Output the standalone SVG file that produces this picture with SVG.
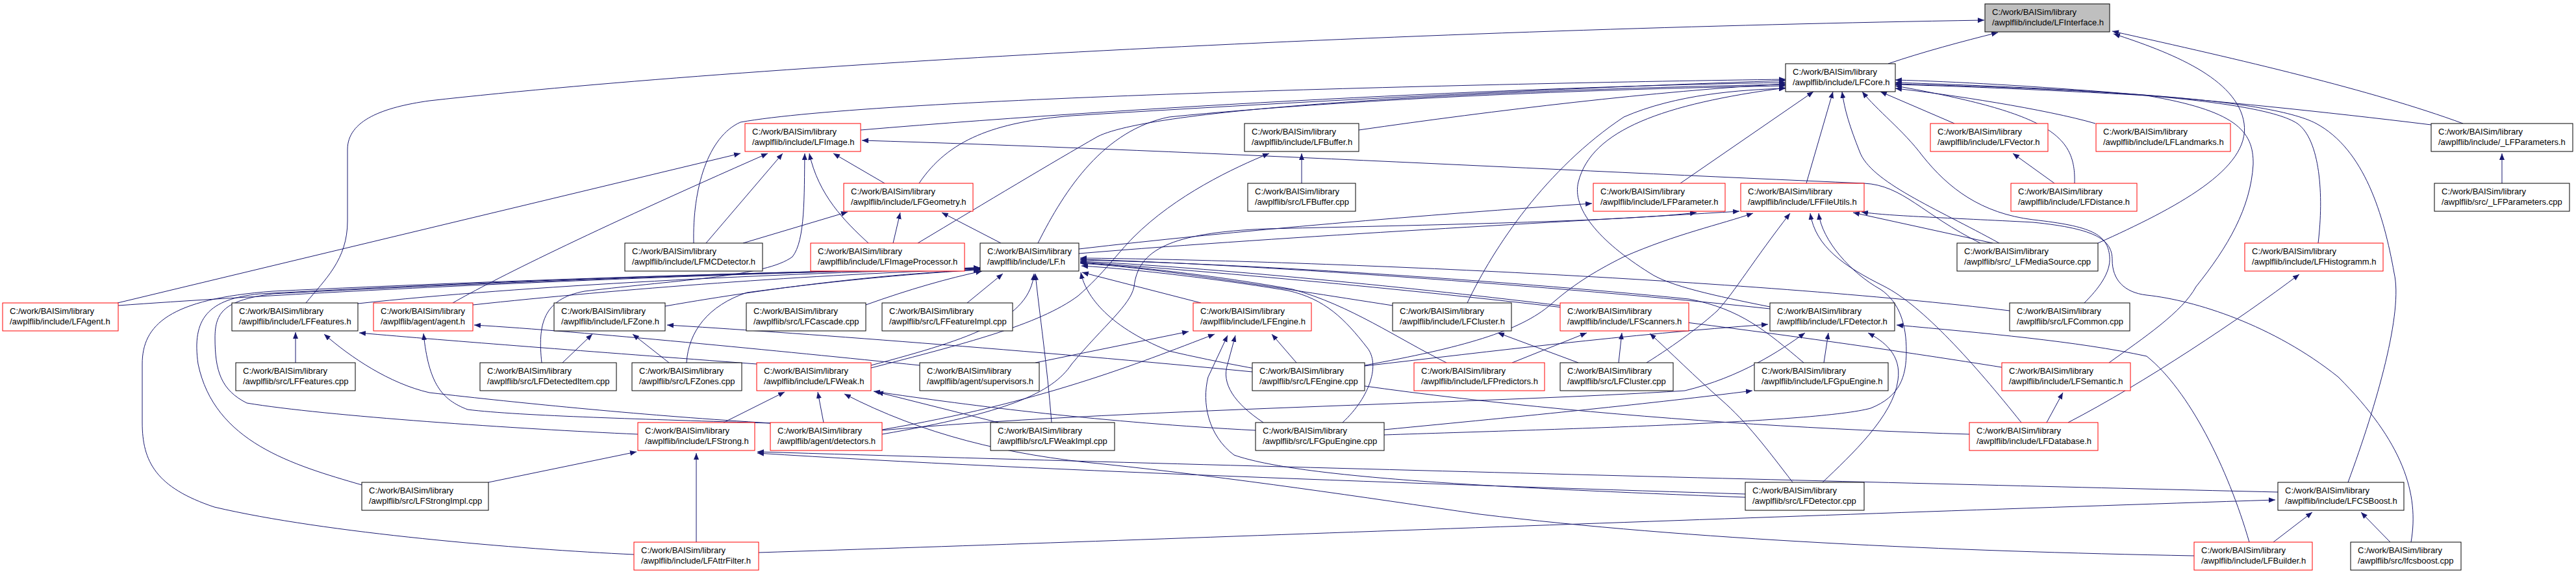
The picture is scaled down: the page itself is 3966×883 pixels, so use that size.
<svg xmlns="http://www.w3.org/2000/svg" width="3966" height="883" viewBox="0 0 3966 883">
<defs>
<marker id="arr" markerUnits="userSpaceOnUse" markerWidth="12" markerHeight="9" refX="10" refY="4" orient="auto"><path d="M0,0 L10,4 L0,8 z" fill="#191970"/></marker>
<style>
.node rect{fill:#fff;stroke:#000;stroke-width:1}
.node.red rect{stroke:#f00}
.node.cur rect{fill:#bfbfbf}
.node text{font-family:"Liberation Sans",Arial,sans-serif;font-size:13px;fill:#000}
#edges path{fill:none;stroke:#191970;stroke-width:1;marker-end:url(#arr)}
</style>
</defs>
<rect width="3966" height="883" fill="#fff"/>
<g id="edges">
<path d="M2907,98 C2960,80 3020,64 3076,50"/>
<path d="M471,466 C500,430 535,400 535,340 L535,230 C535,185 590,165 661,155 C1200,95 2200,45 3055,31"/>
<path d="M3792,190 C3650,138 3450,92 3252,48"/>
<path d="M3230,374 C3350,320 3465,260 3455,190 C3445,120 3340,80 3254,52"/>
<path d="M1325,200 C1800,160 2400,132 2749,127"/>
<path d="M2092,200 C2300,170 2550,140 2749,129"/>
<path d="M3009,190 L2895,141"/>
<path d="M3226,190 C3150,168 3000,145 2918,136"/>
<path d="M3743,192 C3400,150 3100,128 2918,123"/>
<path d="M1415,282 C1460,215 1530,188 1650,178 C2100,150 2500,132 2749,124"/>
<path d="M2587,282 L2792,141"/>
<path d="M2781,282 L2822,141"/>
<path d="M3194,282 C3196,210 3160,175 2918,132"/>
<path d="M1068,374 C1066,290 1090,210 1140,188 C1350,150 2300,128 2749,122"/>
<path d="M1413,374 C1520,310 1620,250 1690,210 C1780,165 2300,138 2749,130"/>
<path d="M1598,374 C1640,290 1700,200 1800,180 C2100,150 2500,136 2749,132"/>
<path d="M3078,374 C2980,320 2880,280 2863,233 C2848,195 2840,170 2836,141"/>
<path d="M3569,374 C3578,300 3572,215 3537,190 C3480,152 3200,136 2918,127"/>
<path d="M3615,742 C3660,620 3700,480 3686,420 C3670,330 3640,230 3566,190 C3490,150 3200,137 2918,129"/>
<path d="M2725,472 C2640,455 2570,440 2540,420 C2460,370 2420,320 2430,280 C2450,200 2560,160 2749,135"/>
<path d="M3209,466 C3230,445 3250,420 3248,395 C3245,360 3220,348 3130,338 C3050,328 3000,290 2960,240 C2930,200 2890,170 2867,141"/>
<path d="M3247,558 C3300,520 3360,480 3381,441 C3430,380 3465,320 3469,253 C3470,200 3440,170 3305,147 C3150,138 3000,132 2918,130"/>
<path d="M2259,466 C2300,380 2380,260 2500,180 C2580,145 2680,138 2749,136"/>
<path d="M181,466 L1140,236"/>
<path d="M697,466 C760,430 900,360 1182,236"/>
<path d="M1087,374 L1205,236"/>
<path d="M834,558 C828,500 835,460 900,448 C1050,430 1180,425 1220,395 C1240,370 1238,300 1239,236"/>
<path d="M1337,374 C1300,340 1260,300 1246,236"/>
<path d="M1362,282 L1283,236"/>
<path d="M3049,374 C2960,330 2930,285 2870,282 C2400,262 1800,230 1327,216"/>
<path d="M2004,282 L2004,236"/>
<path d="M1341,566 C1480,530 1600,500 1660,455 C1700,420 1720,390 1745,365 C1810,300 1900,258 1954,236"/>
<path d="M3852,282 L3852,236"/>
<path d="M3163,282 L3099,236"/>
<path d="M1375,374 L1386,327"/>
<path d="M1541,374 L1450,327"/>
<path d="M1144,374 L1305,326"/>
<path d="M1661,383 C1900,355 2200,330 2451,313"/>
<path d="M1358,668 C1550,635 1620,605 1650,560 C1700,500 1740,470 1746,441 C1752,385 1800,358 1950,352 C2250,345 2500,340 2612,327"/>
<path d="M1661,390 C2000,362 2400,342 2678,325"/>
<path d="M2101,562 C2250,535 2340,510 2388,468 C2420,440 2450,420 2500,395 C2580,360 2650,345 2699,328"/>
<path d="M2535,558 C2580,530 2620,500 2644,478 C2670,450 2700,400 2756,328"/>
<path d="M3068,374 L2853,327"/>
<path d="M3112,650 C3040,560 2960,470 2900,440 C2840,410 2795,380 2787,328"/>
<path d="M2131,669 C2400,660 2800,650 2880,628 C2925,610 2935,580 2935,540 C2935,500 2925,465 2895,445 C2850,420 2805,370 2800,328"/>
<path d="M3712,834 C3725,760 3700,680 3600,580 C3500,500 3380,462 3305,454 C3270,450 3252,430 3252,400 C3252,370 3230,352 3130,342 C3000,335 2900,332 2866,326"/>
<path d="M3184,650 C3300,590 3450,490 3540,422"/>
<path d="M3151,650 L3176,604"/>
<path d="M182,470 C600,440 1200,418 1509,412"/>
<path d="M551,467 C800,440 1200,420 1509,413"/>
<path d="M728,469 C950,445 1250,422 1509,414"/>
<path d="M1024,471 C1200,440 1380,420 1509,415"/>
<path d="M1333,469 C1400,445 1460,428 1512,417"/>
<path d="M1489,466 L1544,421"/>
<path d="M1341,562 C1500,520 1585,490 1592,421"/>
<path d="M1619,650 C1612,560 1600,480 1594,421"/>
<path d="M1849,466 L1666,419"/>
<path d="M2144,470 C1950,440 1780,412 1663,405"/>
<path d="M2402,470 C2200,445 1850,410 1663,402"/>
<path d="M2725,475 C2400,440 1900,405 1663,399"/>
<path d="M3094,478 C2700,430 2000,400 1663,397"/>
<path d="M557,746 C450,715 330,680 305,560 C295,490 320,460 400,452 C800,430 1200,418 1509,412"/>
<path d="M976,853 C800,845 500,820 330,780 C240,750 219,710 219,650 L219,560 C219,500 260,460 420,448 C800,430 1200,418 1509,412"/>
<path d="M982,668 C800,660 500,640 380,620 C340,600 331,570 331,520 C331,480 345,462 420,452 C800,432 1200,418 1509,413"/>
<path d="M1057,558 C1060,510 1090,470 1150,450 C1300,430 1420,420 1509,415"/>
<path d="M2227,558 C2150,520 2080,470 1990,445 C1850,420 1720,408 1663,404"/>
<path d="M2777,558 C2720,510 2680,475 2600,460 C2300,430 1900,405 1663,400"/>
<path d="M3082,565 C2800,520 2300,450 1663,403"/>
<path d="M3032,668 C2600,655 2100,610 1800,540 C1700,500 1670,450 1664,419"/>
<path d="M2067,650 C2110,610 2125,560 2105,535 C2070,490 2040,460 1983,447 C1850,425 1720,412 1665,409"/>
<path d="M455,558 L455,511"/>
<path d="M1165,560 C900,540 700,525 553,512"/>
<path d="M1188,651 C1000,640 800,620 661,604 C600,590 540,550 499,514"/>
<path d="M1186,651 C1000,645 800,640 720,630 C680,615 660,590 652,513"/>
<path d="M1416,562 C1200,540 900,510 730,500"/>
<path d="M866,558 L912,514"/>
<path d="M1030,558 L974,514"/>
<path d="M1928,572 C1600,540 1200,510 1027,500"/>
<path d="M1594,558 L1830,510"/>
<path d="M1358,661 C1600,620 1750,560 1870,514"/>
<path d="M1996,558 L1958,514"/>
<path d="M1945,650 C1900,620 1880,590 1890,560 L1902,516"/>
<path d="M2687,765 C2300,750 2000,735 1900,700 C1860,670 1850,620 1860,580 L1890,516"/>
<path d="M2430,558 L2306,512"/>
<path d="M2328,558 L2443,512"/>
<path d="M2492,558 L2497,512"/>
<path d="M2760,742 C2720,690 2690,650 2650,615 C2610,580 2570,540 2540,513"/>
<path d="M2808,558 L2815,512"/>
<path d="M2806,742 C2850,700 2915,640 2922,585 C2928,545 2900,525 2876,512"/>
<path d="M2101,563 C2300,540 2500,515 2722,499"/>
<path d="M1358,662 C1700,630 2300,620 2594,601 C2680,580 2740,540 2779,512"/>
<path d="M3463,834 C3430,720 3370,600 3305,548 C3200,525 3050,512 2920,500"/>
<path d="M2131,661 C2350,640 2550,620 2698,601"/>
<path d="M1114,650 L1208,603"/>
<path d="M1268,650 L1259,603"/>
<path d="M1537,650 L1350,603"/>
<path d="M1933,662 C1700,650 1500,625 1345,602"/>
<path d="M3378,855 C3000,848 2600,830 2278,791 C2100,765 1900,735 1700,714 C1550,700 1420,668 1300,606"/>
<path d="M752,742 L980,695"/>
<path d="M1072,834 L1072,697"/>
<path d="M3507,757 C3000,745 2000,720 1166,695"/>
<path d="M2687,760 C2300,748 1600,725 1166,697"/>
<path d="M1168,850 C1800,830 2700,795 3503,769"/>
<path d="M3500,834 L3560,788"/>
<path d="M3680,834 L3635,788"/>
</g>
<g id="n_LFInterface" class="node cur"><rect x="3056" y="6" width="192" height="43"/><text><tspan x="3067" y="23">C:/work/BAISim/library</tspan><tspan x="3067" y="39">/awplflib/include/LFInterface.h</tspan></text></g>
<g id="n_LFCore" class="node"><rect x="2749" y="98" width="169" height="43"/><text><tspan x="2760" y="115">C:/work/BAISim/library</tspan><tspan x="2760" y="131">/awplflib/include/LFCore.h</tspan></text></g>
<g id="n_LFImage" class="node red"><rect x="1147" y="190" width="178" height="43"/><text><tspan x="1158" y="207">C:/work/BAISim/library</tspan><tspan x="1158" y="223">/awplflib/include/LFImage.h</tspan></text></g>
<g id="n_LFBuffer_h" class="node"><rect x="1916" y="190" width="176" height="43"/><text><tspan x="1927" y="207">C:/work/BAISim/library</tspan><tspan x="1927" y="223">/awplflib/include/LFBuffer.h</tspan></text></g>
<g id="n_LFVector" class="node red"><rect x="2972" y="190" width="181" height="43"/><text><tspan x="2983" y="207">C:/work/BAISim/library</tspan><tspan x="2983" y="223">/awplflib/include/LFVector.h</tspan></text></g>
<g id="n_LFLandmarks" class="node red"><rect x="3227" y="190" width="207" height="43"/><text><tspan x="3238" y="207">C:/work/BAISim/library</tspan><tspan x="3238" y="223">/awplflib/include/LFLandmarks.h</tspan></text></g>
<g id="n_LFParameters_h" class="node"><rect x="3743" y="190" width="218" height="43"/><text><tspan x="3754" y="207">C:/work/BAISim/library</tspan><tspan x="3754" y="223">/awplflib/include/_LFParameters.h</tspan></text></g>
<g id="n_LFGeometry" class="node red"><rect x="1299" y="282" width="199" height="43"/><text><tspan x="1310" y="299">C:/work/BAISim/library</tspan><tspan x="1310" y="315">/awplflib/include/LFGeometry.h</tspan></text></g>
<g id="n_LFBuffer_cpp" class="node"><rect x="1921" y="282" width="166" height="43"/><text><tspan x="1932" y="299">C:/work/BAISim/library</tspan><tspan x="1932" y="315">/awplflib/src/LFBuffer.cpp</tspan></text></g>
<g id="n_LFParameter" class="node red"><rect x="2453" y="282" width="203" height="43"/><text><tspan x="2464" y="299">C:/work/BAISim/library</tspan><tspan x="2464" y="315">/awplflib/include/LFParameter.h</tspan></text></g>
<g id="n_LFFileUtils" class="node red"><rect x="2680" y="282" width="190" height="43"/><text><tspan x="2691" y="299">C:/work/BAISim/library</tspan><tspan x="2691" y="315">/awplflib/include/LFFileUtils.h</tspan></text></g>
<g id="n_LFDistance" class="node red"><rect x="3096" y="282" width="194" height="43"/><text><tspan x="3107" y="299">C:/work/BAISim/library</tspan><tspan x="3107" y="315">/awplflib/include/LFDistance.h</tspan></text></g>
<g id="n_LFParameters_cpp" class="node"><rect x="3748" y="282" width="208" height="43"/><text><tspan x="3759" y="299">C:/work/BAISim/library</tspan><tspan x="3759" y="315">/awplflib/src/_LFParameters.cpp</tspan></text></g>
<g id="n_LFMCDetector" class="node"><rect x="962" y="374" width="212" height="43"/><text><tspan x="973" y="391">C:/work/BAISim/library</tspan><tspan x="973" y="407">/awplflib/include/LFMCDetector.h</tspan></text></g>
<g id="n_LFImageProcessor" class="node red"><rect x="1248" y="374" width="237" height="43"/><text><tspan x="1259" y="391">C:/work/BAISim/library</tspan><tspan x="1259" y="407">/awplflib/include/LFImageProcessor.h</tspan></text></g>
<g id="n_LF" class="node"><rect x="1509" y="374" width="152" height="43"/><text><tspan x="1520" y="391">C:/work/BAISim/library</tspan><tspan x="1520" y="407">/awplflib/include/LF.h</tspan></text></g>
<g id="n_LFMediaSource" class="node"><rect x="3013" y="374" width="217" height="43"/><text><tspan x="3024" y="391">C:/work/BAISim/library</tspan><tspan x="3024" y="407">/awplflib/src/_LFMediaSource.cpp</tspan></text></g>
<g id="n_LFHistogramm" class="node red"><rect x="3456" y="374" width="213" height="43"/><text><tspan x="3467" y="391">C:/work/BAISim/library</tspan><tspan x="3467" y="407">/awplflib/include/LFHistogramm.h</tspan></text></g>
<g id="n_LFAgent" class="node red"><rect x="4" y="466" width="178" height="43"/><text><tspan x="15" y="483">C:/work/BAISim/library</tspan><tspan x="15" y="499">/awplflib/include/LFAgent.h</tspan></text></g>
<g id="n_LFFeatures_h" class="node"><rect x="357" y="466" width="194" height="43"/><text><tspan x="368" y="483">C:/work/BAISim/library</tspan><tspan x="368" y="499">/awplflib/include/LFFeatures.h</tspan></text></g>
<g id="n_agent" class="node red"><rect x="575" y="466" width="153" height="43"/><text><tspan x="586" y="483">C:/work/BAISim/library</tspan><tspan x="586" y="499">/awplflib/agent/agent.h</tspan></text></g>
<g id="n_LFZone" class="node"><rect x="853" y="466" width="171" height="43"/><text><tspan x="864" y="483">C:/work/BAISim/library</tspan><tspan x="864" y="499">/awplflib/include/LFZone.h</tspan></text></g>
<g id="n_LFCascade" class="node"><rect x="1149" y="466" width="184" height="43"/><text><tspan x="1160" y="483">C:/work/BAISim/library</tspan><tspan x="1160" y="499">/awplflib/src/LFCascade.cpp</tspan></text></g>
<g id="n_LFFeatureImpl" class="node"><rect x="1358" y="466" width="201" height="43"/><text><tspan x="1369" y="483">C:/work/BAISim/library</tspan><tspan x="1369" y="499">/awplflib/src/LFFeatureImpl.cpp</tspan></text></g>
<g id="n_LFEngine_h" class="node red"><rect x="1837" y="466" width="182" height="43"/><text><tspan x="1848" y="483">C:/work/BAISim/library</tspan><tspan x="1848" y="499">/awplflib/include/LFEngine.h</tspan></text></g>
<g id="n_LFCluster_h" class="node"><rect x="2144" y="466" width="183" height="43"/><text><tspan x="2155" y="483">C:/work/BAISim/library</tspan><tspan x="2155" y="499">/awplflib/include/LFCluster.h</tspan></text></g>
<g id="n_LFScanners" class="node red"><rect x="2402" y="466" width="198" height="43"/><text><tspan x="2413" y="483">C:/work/BAISim/library</tspan><tspan x="2413" y="499">/awplflib/include/LFScanners.h</tspan></text></g>
<g id="n_LFDetector_h" class="node"><rect x="2725" y="466" width="192" height="43"/><text><tspan x="2736" y="483">C:/work/BAISim/library</tspan><tspan x="2736" y="499">/awplflib/include/LFDetector.h</tspan></text></g>
<g id="n_LFCommon" class="node"><rect x="3094" y="466" width="185" height="43"/><text><tspan x="3105" y="483">C:/work/BAISim/library</tspan><tspan x="3105" y="499">/awplflib/src/LFCommon.cpp</tspan></text></g>
<g id="n_LFFeatures_cpp" class="node"><rect x="363" y="558" width="184" height="43"/><text><tspan x="374" y="575">C:/work/BAISim/library</tspan><tspan x="374" y="591">/awplflib/src/LFFeatures.cpp</tspan></text></g>
<g id="n_LFDetectedItem" class="node"><rect x="739" y="558" width="210" height="43"/><text><tspan x="750" y="575">C:/work/BAISim/library</tspan><tspan x="750" y="591">/awplflib/src/LFDetectedItem.cpp</tspan></text></g>
<g id="n_LFZones" class="node"><rect x="973" y="558" width="169" height="43"/><text><tspan x="984" y="575">C:/work/BAISim/library</tspan><tspan x="984" y="591">/awplflib/src/LFZones.cpp</tspan></text></g>
<g id="n_LFWeak" class="node red"><rect x="1165" y="558" width="176" height="43"/><text><tspan x="1176" y="575">C:/work/BAISim/library</tspan><tspan x="1176" y="591">/awplflib/include/LFWeak.h</tspan></text></g>
<g id="n_supervisors" class="node"><rect x="1416" y="558" width="184" height="43"/><text><tspan x="1427" y="575">C:/work/BAISim/library</tspan><tspan x="1427" y="591">/awplflib/agent/supervisors.h</tspan></text></g>
<g id="n_LFEngine_cpp" class="node"><rect x="1928" y="558" width="173" height="43"/><text><tspan x="1939" y="575">C:/work/BAISim/library</tspan><tspan x="1939" y="591">/awplflib/src/LFEngine.cpp</tspan></text></g>
<g id="n_LFPredictors" class="node red"><rect x="2177" y="558" width="201" height="43"/><text><tspan x="2188" y="575">C:/work/BAISim/library</tspan><tspan x="2188" y="591">/awplflib/include/LFPredictors.h</tspan></text></g>
<g id="n_LFCluster_cpp" class="node"><rect x="2402" y="558" width="174" height="43"/><text><tspan x="2413" y="575">C:/work/BAISim/library</tspan><tspan x="2413" y="591">/awplflib/src/LFCluster.cpp</tspan></text></g>
<g id="n_LFGpuEngine_h" class="node"><rect x="2701" y="558" width="206" height="43"/><text><tspan x="2712" y="575">C:/work/BAISim/library</tspan><tspan x="2712" y="591">/awplflib/include/LFGpuEngine.h</tspan></text></g>
<g id="n_LFSemantic" class="node red"><rect x="3082" y="558" width="198" height="43"/><text><tspan x="3093" y="575">C:/work/BAISim/library</tspan><tspan x="3093" y="591">/awplflib/include/LFSemantic.h</tspan></text></g>
<g id="n_LFStrong" class="node red"><rect x="982" y="650" width="180" height="43"/><text><tspan x="993" y="667">C:/work/BAISim/library</tspan><tspan x="993" y="683">/awplflib/include/LFStrong.h</tspan></text></g>
<g id="n_detectors" class="node red"><rect x="1186" y="650" width="172" height="43"/><text><tspan x="1197" y="667">C:/work/BAISim/library</tspan><tspan x="1197" y="683">/awplflib/agent/detectors.h</tspan></text></g>
<g id="n_LFWeakImpl" class="node"><rect x="1525" y="650" width="191" height="43"/><text><tspan x="1536" y="667">C:/work/BAISim/library</tspan><tspan x="1536" y="683">/awplflib/src/LFWeakImpl.cpp</tspan></text></g>
<g id="n_LFGpuEngine_cpp" class="node"><rect x="1933" y="650" width="198" height="43"/><text><tspan x="1944" y="667">C:/work/BAISim/library</tspan><tspan x="1944" y="683">/awplflib/src/LFGpuEngine.cpp</tspan></text></g>
<g id="n_LFDatabase" class="node red"><rect x="3032" y="650" width="198" height="43"/><text><tspan x="3043" y="667">C:/work/BAISim/library</tspan><tspan x="3043" y="683">/awplflib/include/LFDatabase.h</tspan></text></g>
<g id="n_LFStrongImpl" class="node"><rect x="557" y="742" width="195" height="43"/><text><tspan x="568" y="759">C:/work/BAISim/library</tspan><tspan x="568" y="775">/awplflib/src/LFStrongImpl.cpp</tspan></text></g>
<g id="n_LFDetector_cpp" class="node"><rect x="2687" y="742" width="183" height="43"/><text><tspan x="2698" y="759">C:/work/BAISim/library</tspan><tspan x="2698" y="775">/awplflib/src/LFDetector.cpp</tspan></text></g>
<g id="n_LFCSBoost" class="node"><rect x="3507" y="742" width="194" height="43"/><text><tspan x="3518" y="759">C:/work/BAISim/library</tspan><tspan x="3518" y="775">/awplflib/include/LFCSBoost.h</tspan></text></g>
<g id="n_LFAttrFilter" class="node red"><rect x="976" y="834" width="192" height="43"/><text><tspan x="987" y="851">C:/work/BAISim/library</tspan><tspan x="987" y="867">/awplflib/include/LFAttrFilter.h</tspan></text></g>
<g id="n_LFBuilder" class="node red"><rect x="3378" y="834" width="182" height="43"/><text><tspan x="3389" y="851">C:/work/BAISim/library</tspan><tspan x="3389" y="867">/awplflib/include/LFBuilder.h</tspan></text></g>
<g id="n_lfcsboost" class="node"><rect x="3619" y="834" width="170" height="43"/><text><tspan x="3630" y="851">C:/work/BAISim/library</tspan><tspan x="3630" y="867">/awplflib/src/lfcsboost.cpp</tspan></text></g>
</svg>
